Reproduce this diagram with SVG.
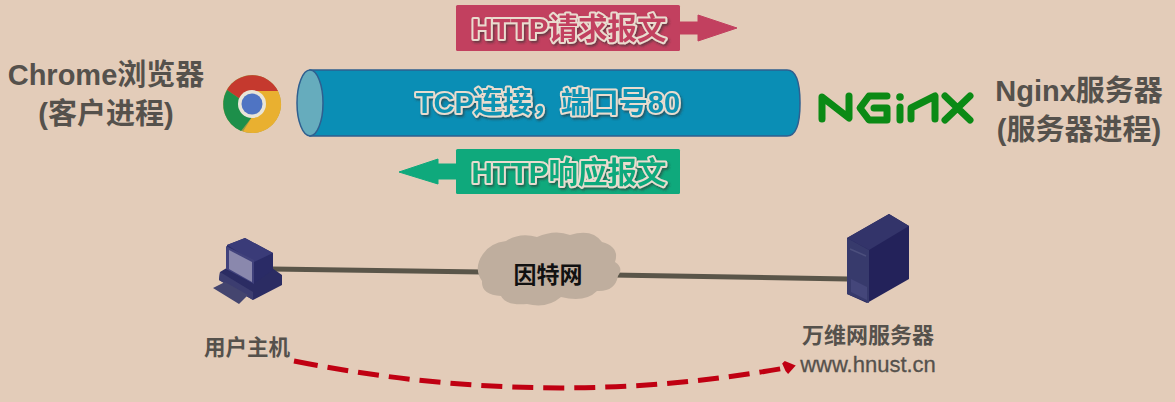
<svg xmlns="http://www.w3.org/2000/svg" width="1175" height="402" viewBox="0 0 1175 402">
<defs>
<style>
text{font-family:"Liberation Sans","Noto Sans CJK SC",sans-serif;font-weight:700}
.dark{fill:#55514c}
.big{font-size:29px}
.outl{font-size:29.5px;stroke:#e9dccf;stroke-width:4px;paint-order:stroke;stroke-linejoin:round}
.tube{stroke:#2f5f8f;stroke-width:1.5}
.link{stroke:#5a5549;stroke-width:5;fill:none}
.logo{fill:none;stroke:#0b8a15;stroke-width:7;stroke-linecap:round;stroke-linejoin:round}
</style>
<marker id="ah" markerWidth="16" markerHeight="18" refX="2" refY="8" orient="auto" markerUnits="userSpaceOnUse" viewBox="0 0 16 16"><path d="M0 3L3 1L13 7.5L4 14.5L2 11Z" fill="#c00012"/></marker>
<filter id="sh" x="-5%" y="-20%" width="110%" height="140%"><feDropShadow dx="1.5" dy="2" stdDeviation="1" flood-color="#333" flood-opacity=".6"/></filter>
</defs>
<rect width="1175" height="402" fill="#e3ccb9"/>

<g id="chrome-label" class="dark" text-anchor="middle">
<text class="big" x="106" y="85">Chrome浏览器</text>
<text class="big" x="106" y="124">(客户进程)</text>
</g>

<g id="chrome-icon">
<circle cx="252" cy="104" r="29" fill="#a09a45"/>
<path d="M227 90A29 29 0 0 1 278 91L252 91A13 13 0 0 0 240 99Z" fill="#c5392e"/>
<path d="M227 90L240 99L252 117L241 131A29 29 0 0 1 227 90Z" fill="#1d8f4a"/>
<path d="M278 91A29 29 0 0 1 243 131.600L252 117L264 97L252 91Z" fill="#e9b030"/>
<circle cx="252" cy="104" r="14" fill="#e9e5d8"/>
<circle cx="252" cy="104" r="10.500" fill="#4f74c3"/>
</g>

<g id="tcp-tube">
<path class="tube" d="M310 70H787Q800 70 800 103Q800 136 787 136H310Z" fill="#0a8eb5"/>
<ellipse class="tube" cx="310" cy="103" rx="13" ry="33" fill="#66acbd"/>
<text class="outl" x="548" y="113" text-anchor="middle" fill="#0f93b3" filter="url(#sh)" style="font-size:29px">TCP连接，端口号80</text>
</g>

<g id="nginx-logo">
<path class="logo" d="M822 119V97L849 118V96"/>
<path class="logo" d="M887 96H869L860 108L869 120H887V108H874"/>
<path class="logo" d="M900 107V120"/>
<circle cx="900" cy="97" r="3.800" fill="#0b8a15"/>
<path class="logo" d="M911 119V108L935 96V119"/>
<path class="logo" d="M945 96L970 120M970 96L945 120"/>
</g>

<g id="nginx-label" class="dark" text-anchor="middle">
<text class="big" x="1079" y="101">Nginx服务器</text>
<text class="big" x="1079" y="140">(服务器进程)</text>
</g>

<g id="http-request">
<rect x="456" y="5" width="224" height="46" rx="1.500" fill="#c2405f"/>
<path d="M680 22H698V15L737 28L698 41V34H680Z" fill="#c2405f" stroke="#c2405f" stroke-linejoin="round"/>
<text class="outl" x="569" y="39" text-anchor="middle" fill="#c2405f" filter="url(#sh)">HTTP请求报文</text>
</g>

<g id="http-response">
<rect x="456" y="149" width="224" height="45" rx="1.500" fill="#0fa97c"/>
<path d="M456 164H438V159L399 172L438 184V179H456Z" fill="#0fa97c" stroke="#0fa97c" stroke-linejoin="round"/>
<text class="outl" x="569" y="183" text-anchor="middle" fill="#0fa97c" filter="url(#sh)">HTTP响应报文</text>
</g>

<g id="connectors">
<path class="link" d="M272 269L482 272"/>
<path class="link" d="M612 275L848 279"/>
<path d="M294 361Q545 411 785 368" fill="none" stroke="#c00012" stroke-width="5" stroke-dasharray="24 10 21 10 21 10 21 10 21 10 21 10 21 10 21 10 21 10 21 10 21 10 21 10 21 10 21 10 21 10 21 10" marker-end="url(#ah)"/>
</g>

<g id="user-host">
<path d="M220 272L219 280L253 300L282 285V275L272 268L253 280L230 266Z" fill="#2b2c63"/>
<path d="M219 280L253 300V292L220 272Z" fill="#3c3d70"/>
<path d="M227 245L245 238L273 253V270L253 284L227 270Z" fill="#2a2b66"/>
<path d="M227 245L245 238L273 253L254 262Z" fill="#3a3b78"/>
<path d="M226 246L254 260V284L226 269Z" fill="#41427c"/>
<path d="M229 250L252 262V282L229 269Z" fill="#8a88ad"/>
<path d="M213 288L225 282L248 295L239 304Z" fill="#44456f"/>
<text class="dark" x="247" y="355" text-anchor="middle" font-size="21.500">用户主机</text>
</g>

<g id="internet">
<path d="M483 254Q490 243 506 241Q520 232 537 237Q555 229 570 235Q592 228 602 242Q620 247 615 262Q624 268 618 276Q615 292 597 291Q585 303 561 297Q547 309 527 304Q506 306 501 296Q481 295 482 281Q473 268 483 254Z" fill="#bfae9e"/>
<text x="548" y="283" text-anchor="middle" font-size="23" fill="#111">因特网</text>
</g>

<g id="web-server">
<path d="M847 238L889 214L909 226V279L867 303L847 294Z" fill="#23225a"/>
<path d="M847 238L889 214L909 226L869 250Z" fill="#33346a"/>
<path d="M847 238L869 250V303L847 294Z" fill="#373a6c"/>
<path d="M850 249L866 256" stroke="#4c4f7d" stroke-width="1.500" fill="none"/>
<path d="M851 279L867 287V300L851 292Z" fill="#44467a"/>
<text class="dark" x="868" y="343" text-anchor="middle" font-size="22">万维网服务器</text>
<text class="dark" x="868" y="372" text-anchor="middle" font-size="22" stroke="#55514c" stroke-width=".3" style="font-weight:400">www.hnust.cn</text>
</g>
</svg>
